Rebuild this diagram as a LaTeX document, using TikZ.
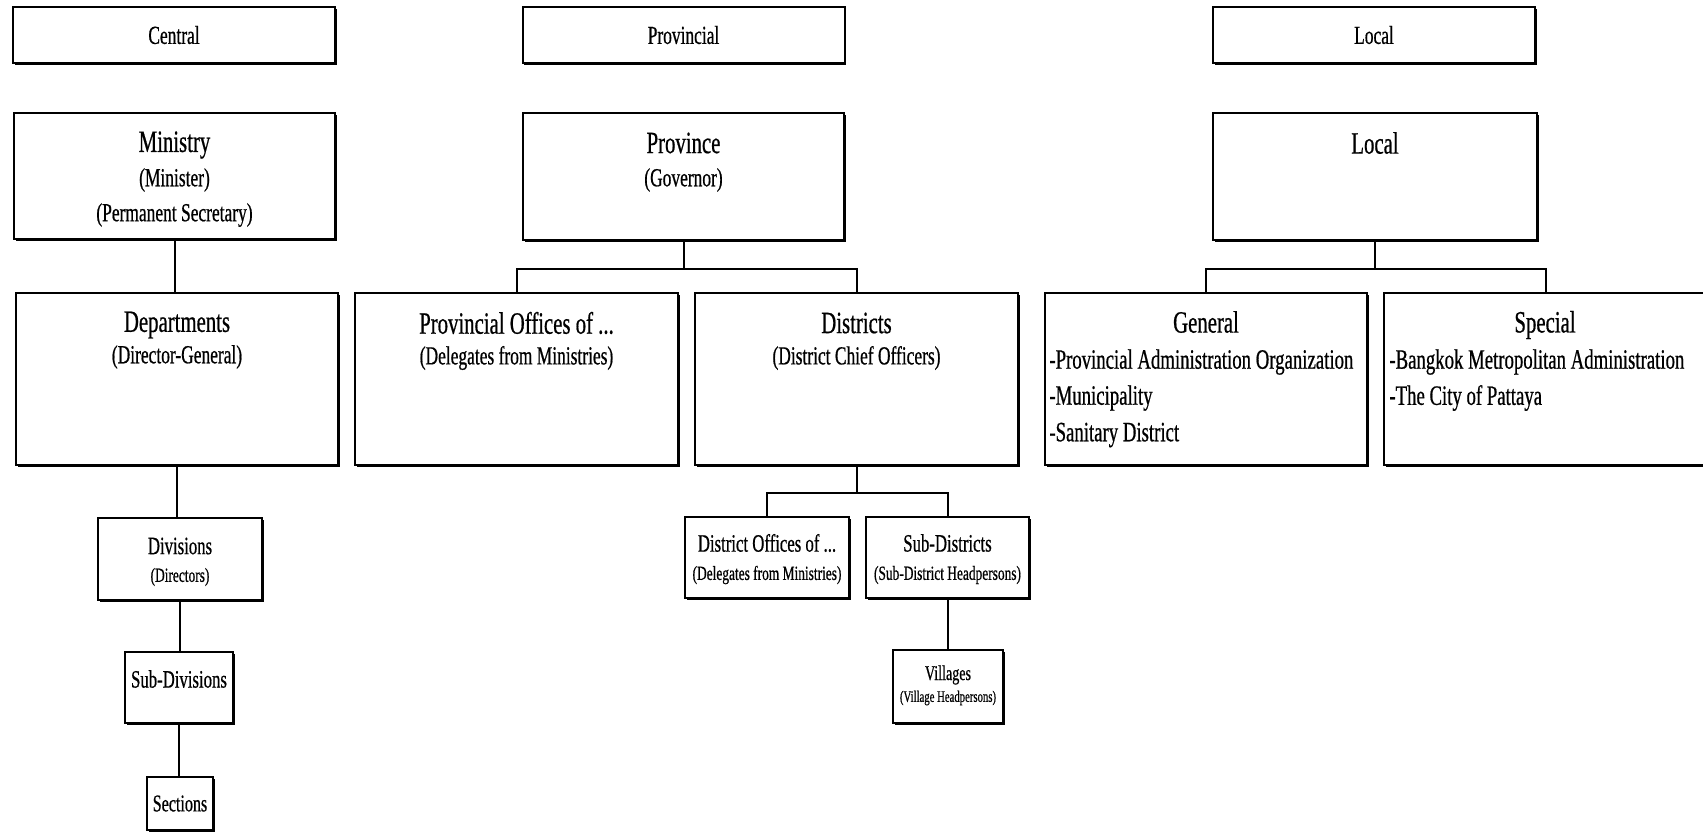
\documentclass[tikz,border=0pt]{standalone}
\usepackage{fontspec}
\setmainfont{Liberation Serif}[FakeStretch=0.67, FakeBold=0.6]
\usetikzlibrary{shadows}

\begin{document}
\begin{tikzpicture}[x=0.5pt, y=-0.5pt,
  box/.style={draw, line width=1pt, fill=white, inner sep=0pt,
              drop shadow={shadow xshift=0.8pt, shadow yshift=-0.8pt, opacity=1, fill=black}},
  tier/.style={box, minimum width=161pt, minimum height=28pt, font=\fontsize{13}{15}\selectfont},
  ttl/.style={inner sep=0pt, font=\fontsize{15.5}{18}\selectfont},
  sub/.style={inner sep=0pt, font=\fontsize{13}{15}\selectfont},
  itm/.style={inner sep=0pt, anchor=west, font=\fontsize{14}{17}\selectfont},
  sttl/.style={inner sep=0pt, font=\fontsize{12.5}{15}\selectfont},
  ssub/.style={inner sep=0pt, font=\fontsize{10}{12}\selectfont},
  vsub/.style={inner sep=0pt, font=\fontsize{8}{10}\selectfont},
  link/.style={line width=1pt}]

  \clip (0,0) rectangle (1703,832);

  \node[tier] (central)    at (174,35)    {Central};
  \node[tier] (provincial) at (683.5,35)  {Provincial};
  \node[tier] (localtier)  at (1374,35)   {Local};

  \node[box, minimum width=160.5pt, minimum height=63pt] (ministry) at (174.5,176) {};
  \node[ttl] (ministryT)  at (174.5,145) {Ministry};
  \node[sub] (ministryS1) at (174.5,180) {(Minister)};
  \node[sub] (ministryS2) at (174.5,215) {(Permanent Secretary)};

  \node[box, minimum width=160.5pt, minimum height=63.5pt] (province) at (683.5,176.5) {};
  \node[ttl] (provinceT) at (683.5,143) {Province};
  \node[sub] (provinceS) at (683.5,180) {(Governor)};

  \node[box, minimum width=162pt, minimum height=63.5pt] (localbox) at (1375,176.5) {};
  \node[ttl] (localT) at (1375,143) {Local};

  \node[box, minimum width=161pt, minimum height=86pt] (dept) at (177,379) {};
  \node[ttl] (deptT) at (177,325) {Departments};
  \node[sub] (deptS) at (177,357) {(Director-General)};

  \node[box, minimum width=161.5pt, minimum height=86pt] (provoff) at (516.5,379) {};
  \node[ttl] (provoffT) at (516.5,323) {Provincial Offices of ...};
  \node[sub] (provoffS) at (516.5,358) {(Delegates from Ministries)};

  \node[box, minimum width=161.5pt, minimum height=86pt] (districts) at (856.5,379) {};
  \node[ttl] (districtsT) at (856.5,323) {Districts};
  \node[sub] (districtsS) at (856.5,358) {(District Chief Officers)};

  \node[box, minimum width=161pt, minimum height=86pt] (general) at (1206,379) {};
  \node[ttl] (generalT) at (1206,322) {General};
  \node[itm] (generalA) at (1049,362) {-Provincial Administration Organization};
  \node[itm] (generalB) at (1049,398) {-Municipality};
  \node[itm] (generalC) at (1049,435) {-Sanitary District};

  \node[box, minimum width=162pt, minimum height=86pt] (special) at (1546,379) {};
  \node[ttl] (specialT) at (1545,325) {Special};
  \node[itm] (specialA) at (1389,362) {-Bangkok Metropolitan Administration};
  \node[itm] (specialB) at (1389,398) {-The City of Pattaya};

  \node[box, minimum width=82pt, minimum height=41pt] (divisions) at (180,559) {};
  \node[sttl] (divisionsT) at (180,546) {Divisions};
  \node[ssub] (divisionsS) at (180,577) {(Directors)};

  \node[box, minimum width=54pt, minimum height=35.5pt] (subdiv) at (179,687.5) {};
  \node[sttl] (subdivT) at (179,679) {Sub-Divisions};

  \node[box, minimum width=33pt, minimum height=26.5pt, font=\fontsize{12}{14}\selectfont] (sections) at (180,803.5) {Sections};

  \node[box, minimum width=82pt, minimum height=40.5pt] (distoff) at (767,557.5) {};
  \node[sttl] (distoffT) at (767,543) {District Offices of ...};
  \node[ssub] (distoffS) at (767,575) {(Delegates from Ministries)};

  \node[box, minimum width=81.5pt, minimum height=40.5pt] (subdist) at (947.5,557.5) {};
  \node[sttl] (subdistT) at (947.5,543) {Sub-Districts};
  \node[ssub] (subdistS) at (947.5,575) {(Sub-District Headpersons)};

  \node[box, minimum width=55pt, minimum height=36.5pt] (villages) at (948,686.5) {};
  \node[inner sep=0pt, font=\fontsize{10.5}{12}\selectfont] (villagesT) at (948,675) {Villages};
  \node[vsub] (villagesS) at (948,698) {(Village Headpersons)};

  \draw[link] (ministry.south) -- (ministry.south |- dept.north);
  \draw[link] (dept.south) -- (dept.south |- divisions.north);
  \draw[link] (divisions.south) -- (divisions.south |- subdiv.north);
  \draw[link] (subdiv.south) -- (subdiv.south |- sections.north);

  \coordinate (provbus) at ([yshift=-14pt]province.south);
  \draw[link] (province.south) -- (provbus);
  \draw[link] (provoff.north) |- (provbus) -| (districts.north);

  \coordinate (localbus) at ([yshift=-14pt]localbox.south);
  \draw[link] (localbox.south) -- (localbus);
  \draw[link] (general.north) |- (localbus) -| (special.north);

  \coordinate (distbus) at ([yshift=-13.5pt]districts.south);
  \draw[link] (districts.south) -- (distbus);
  \draw[link] (distoff.north) |- (distbus) -| (subdist.north);
  \draw[link] (subdist.south) -- (subdist.south |- villages.north);
\end{tikzpicture}
\end{document}
